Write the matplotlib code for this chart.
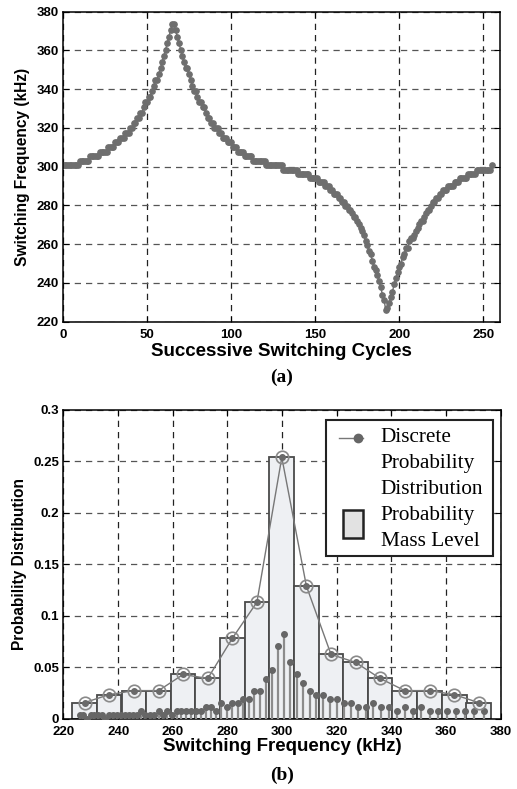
import numpy as np
import matplotlib.pyplot as plt
from matplotlib.patches import Rectangle
from matplotlib.lines import Line2D
from matplotlib.ticker import FuncFormatter

freq_levels = [
    300.75, 303.03, 305.34, 307.69, 310.08, 312.50, 314.96, 317.46, 320.00, 322.58,
    325.20, 327.87, 330.58, 333.33, 336.13, 338.98, 341.88, 344.83, 347.83, 350.88,
    353.98, 357.14, 360.36, 363.64, 366.97, 370.37, 373.83,
    370.37, 366.97, 363.64, 360.36, 357.14, 353.98, 350.88, 347.83, 344.83, 341.88,
    338.98, 336.13, 333.33, 330.58, 327.87, 325.20, 322.58, 320.00, 317.46, 314.96,
    312.50, 310.08, 307.69, 305.34, 303.03, 300.75,
    298.51, 296.30, 294.12, 291.97, 289.86, 287.77, 285.71, 283.69, 281.69, 279.72,
    277.78, 275.86, 273.97, 272.11, 270.27, 268.46, 266.67, 264.90, 261.44, 259.74,
    256.41, 254.78, 251.57, 248.45, 246.91, 243.90, 240.96, 238.10, 233.92, 231.21,
    225.99,
    227.27, 229.89, 232.56, 235.29, 239.52, 242.42, 245.40, 248.45, 250.00, 253.16,
    254.78, 258.06, 261.44, 263.16, 264.90, 266.67, 268.46, 270.27, 272.11, 273.97,
    275.86, 277.78, 279.72, 281.69, 283.69, 285.71, 287.77, 289.86, 291.97, 294.12,
    296.30, 298.51, 300.75,
]
run_lengths = [
    10, 6, 6, 5, 4, 3, 3, 3, 2, 2,
    2, 2, 1, 2, 2, 1, 1, 2, 1, 1,
    1, 1, 1, 1, 1, 1, 2,
    1, 1, 1, 1, 1, 1, 2, 1, 1, 1,
    2, 1, 2, 2, 1, 2, 2, 3, 2, 3,
    3, 3, 4, 5, 8, 10,
    9, 7, 5, 4, 3, 2, 3, 2, 2, 2,
    2, 1, 2, 1, 1, 1, 1, 1, 1, 1,
    1, 1, 1, 1, 1, 1, 1, 1, 1, 1,
    1,
    1, 1, 1, 1, 1, 1, 1, 1, 1, 1,
    1, 2, 1, 2, 1, 1, 1, 1, 2, 1,
    1, 2, 1, 2, 2, 2, 3, 4, 3, 5,
    5, 9, 1,
]

# (b) discrete distribution: one stem per switching frequency (cycles out of 256)
stem_freq = [
    225.99, 227.27, 228.57, 229.89, 231.21, 232.56, 233.92, 235.29, 236.69, 238.10,
    239.52, 240.96, 242.42, 243.90, 245.40, 246.91, 248.45, 250.00, 251.57, 253.16,
    254.78, 256.41, 258.06, 259.74, 261.44, 263.16, 264.90, 266.67, 268.46, 270.27,
    272.11, 273.97, 275.86, 277.78, 279.72, 281.69, 283.69, 285.71, 287.77, 289.86,
    291.97, 294.12, 296.30, 298.51, 300.75, 303.03, 305.34, 307.69, 310.08, 312.50,
    314.96, 317.46, 320.00, 322.58, 325.20, 327.87, 330.58, 333.33, 336.13, 338.98,
    341.88, 344.83, 347.83, 350.88, 353.98, 357.14, 360.36, 363.64, 366.97, 370.37,
    373.83,
]
stem_count = [
    1, 1, 0, 1, 1, 1, 1, 0, 1, 1,
    1, 1, 1, 1, 1, 1, 2, 1, 1, 1,
    2, 1, 2, 1, 2, 2, 2, 2, 2, 2,
    3, 3, 2, 4, 3, 4, 4, 5, 5, 7,
    7, 10, 12, 18, 21, 14, 11, 9, 7, 6,
    6, 5, 5, 4, 4, 3, 3, 4, 3, 3,
    2, 3, 2, 3, 2, 2, 2, 2, 2, 2,
    2,
]

# (b) probability mass level, 17 bins
bin_centers = [227.7, 236.7, 245.8, 254.8, 263.8, 272.8, 281.8, 290.8, 299.9,
               308.9, 317.9, 326.9, 335.9, 344.9, 354.0, 363.0, 372.0]
bin_prob = [0.0156, 0.0234, 0.0273, 0.0273, 0.0430, 0.0391, 0.0781, 0.1133, 0.2539,
            0.1289, 0.0625, 0.0547, 0.0391, 0.0273, 0.0273, 0.0234, 0.0156]
bin_width = 9.02

freq = np.repeat(freq_levels, run_lengths)
cycles = np.arange(len(freq))
stem_prob = np.array(stem_count) / len(freq)

sans = 'Liberation Sans'
serif = 'Liberation Serif'
plt.rcParams['font.family'] = sans
plt.rcParams['font.weight'] = 'bold'

fig = plt.figure(figsize=(5.17, 7.89), dpi=100)
ax1 = fig.add_axes([0.1219, 0.5923, 0.8453, 0.3929])
ax2 = fig.add_axes([0.1228, 0.0891, 0.8456, 0.3913])


def style(ax):
    for s in ax.spines.values():
        s.set_linewidth(1.1)
        s.set_color('black')
    ax.tick_params(direction='in', top=True, right=True, length=4, width=0.8,
                   labelsize=9.5)
    ax.tick_params(axis='x', pad=5)
    ax.tick_params(axis='y', pad=3)
    for lab in ax.get_xticklabels() + ax.get_yticklabels():
        lab.set_fontweight('bold')
    ax.set_axisbelow(True)
    ax.xaxis.grid(True, color='#222222', linestyle=(0, (5, 4)), linewidth=0.9)
    ax.yaxis.grid(True, color='#555555', linestyle=(0, (5, 4)), linewidth=0.9)


# ---- (a) ----
ax1.plot(cycles, freq, '-o', color='#6e6e6e', lw=1, ms=3.8, mec='#6e6e6e')
ax1.set_xlim(0, 260)
ax1.set_ylim(220, 380)
ax1.set_xticks(range(0, 251, 50))
ax1.set_yticks(range(220, 381, 20))
style(ax1)
ax1.set_xlabel('Successive Switching Cycles', fontsize=13.5, fontweight='bold', labelpad=2)
ax1.set_ylabel('Switching Frequency (kHz)', fontsize=11.2, fontweight='bold', labelpad=5)
ax1.text(0.5, -0.18, '(a)', transform=ax1.transAxes, ha='center', va='center',
         family=serif, fontsize=14, fontweight='bold')

# ---- (b) ----
ax2.bar(bin_centers, bin_prob, width=bin_width, color='#eef0f3', edgecolor='#4a4a4a',
        linewidth=1.3, zorder=2)
ml, sl, bl = ax2.stem(stem_freq, stem_prob, basefmt=' ')
plt.setp(sl, color='#8c8c8c', linewidth=1.6, zorder=3)
plt.setp(ml, color='#666666', markersize=4, zorder=4)
ax2.plot(bin_centers, bin_prob, '-', color='#777777', lw=1, zorder=5)
ax2.plot(bin_centers, bin_prob, 'o', mfc='none', mec='#8a8a8a', ms=9, mew=1.2, zorder=6)
ax2.plot(bin_centers, bin_prob, 'o', color='#6a6a6a', ms=4, zorder=7)
ax2.set_xlim(220, 380)
ax2.set_ylim(0, 0.3)
ax2.set_xticks(range(220, 381, 20))
ax2.set_yticks(np.arange(0, 0.301, 0.05))
ax2.yaxis.set_major_formatter(FuncFormatter(lambda v, p: '%g' % round(v, 2)))
style(ax2)
ax2.set_xlabel('Switching Frequency (kHz)', fontsize=13.5, fontweight='bold', labelpad=0)
ax2.set_ylabel('Probability Distribution', fontsize=11.2, fontweight='bold', labelpad=5)
ax2.text(0.5, -0.182, '(b)', transform=ax2.transAxes, ha='center', va='center',
         family=serif, fontsize=14, fontweight='bold')

# legend drawn by hand so the line handle sits on the first text line
tr = ax2.transAxes
ax2.add_patch(Rectangle((0.600, 0.528), 0.383, 0.440, transform=tr, facecolor='white',
                        edgecolor='#222222', linewidth=1.5, zorder=10))
ax2.add_line(Line2D([0.631, 0.686], [0.910, 0.910], transform=tr, color='#777777',
                    lw=1, zorder=11))
ax2.add_line(Line2D([0.674], [0.910], transform=tr, marker='o', color='#666666',
                    ms=6, zorder=12))
ax2.add_patch(Rectangle((0.640, 0.586), 0.044, 0.090, transform=tr, facecolor='#e2e2e2',
                        edgecolor='#222222', linewidth=1.8, zorder=11))
legend_lines = ['Discrete', 'Probability', 'Distribution', 'Probability', 'Mass Level']
for i, txt in enumerate(legend_lines):
    ax2.text(0.7255, 0.911 - 0.084 * i, txt, transform=tr, va='center', ha='left',
             family=serif, fontweight='normal', fontsize=15.3, zorder=12)

fig.savefig('out.png', dpi=100)
